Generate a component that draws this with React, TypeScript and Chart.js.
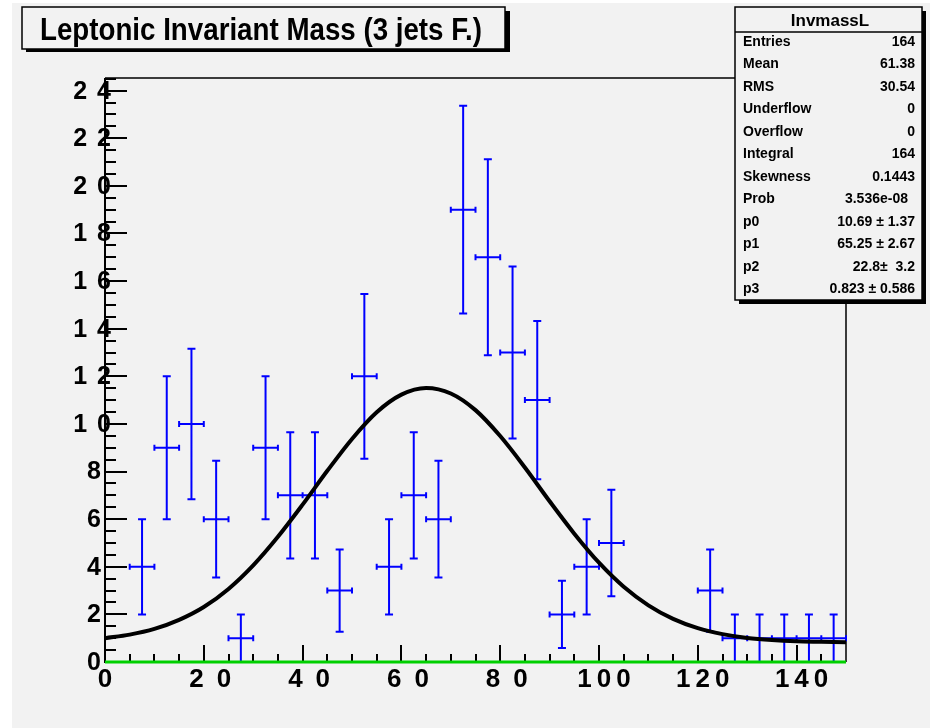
import React, { useEffect, useRef } from "react";
import { Chart, registerables } from "chart.js";

Chart.register(...registerables);

// ---------------- data ----------------
const titleText = "Leptonic Invariant Mass (3 jets F.)";

const binWidth = 5;
const binCenters = [7.5, 12.5, 17.5, 22.5, 27.5, 32.5, 37.5, 42.5, 47.5, 52.5, 57.5, 62.5, 67.5, 72.5, 77.5, 82.5, 87.5, 92.5, 97.5, 102.5, 122.5, 127.5, 132.5, 137.5, 142.5, 147.5];
const binCounts = [4, 9, 10, 6, 1, 9, 7, 7, 3, 12, 4, 7, 6, 19, 17, 13, 11, 2, 4, 5, 3, 1, 1, 1, 1, 1];
const binErrors = [2, 3, 3.16, 2.45, 1, 3, 2.65, 2.65, 1.73, 3.46, 2, 2.65, 2.45, 4.36, 4.12, 3.61, 3.32, 1.41, 2, 2.24, 1.73, 1, 1, 1, 1, 1];

const fitX = [0, 5, 10, 15, 20, 25, 30, 35, 40, 45, 50, 55, 60, 65, 70, 75, 80, 85, 90, 95, 100, 105, 110, 115, 120, 125, 130, 135, 140, 145, 150];
const fitY = [1.0, 1.15, 1.39, 1.77, 2.31, 3.07, 4.06, 5.26, 6.61, 8.03, 9.37, 10.49, 11.23, 11.51, 11.28, 10.58, 9.49, 8.17, 6.75, 5.39, 4.17, 3.16, 2.38, 1.81, 1.42, 1.17, 1.01, 0.92, 0.87, 0.85, 0.83];

const baselineX = [0, 150];
const baselineY = [0, 0];

const xMin = 0;
const xMax = 150;
const yMin = 0;
const yMax = 24.53;

const xTickValues = [0, 20, 40, 60, 80, 100, 120, 140];
const xTickLabels = ["0", "20", "40", "60", "80", "100", "120", "140"];
const yTickValues = [0, 2, 4, 6, 8, 10, 12, 14, 16, 18, 20, 22, 24];
const yTickLabels = ["0", "2", "4", "6", "8", "10", "12", "14", "16", "18", "20", "22", "24"];

const statsTitle = "InvmassL";
const statsLabels = ["Entries", "Mean", "RMS", "Underflow", "Overflow", "Integral", "Skewness", "Prob", "p0", "p1", "p2", "p3"];
const statsValues = ["164", "61.38", "30.54", "0", "0", "164", "0.1443", "3.536e-08", "10.69 \u00b1 1.37", "65.25 \u00b1 2.67", "22.8\u00b1  3.2", "0.823 \u00b1 0.586"];

// ---------------- drawing helpers ----------------
const FONT = "'Liberation Sans', Arial, Helvetica, sans-serif";
const BG = "#f2f2f2";

function drawSpaced(ctx: CanvasRenderingContext2D, text: string, x: number, y: number, align: "center" | "right", gap: number) {
  const natural = ctx.measureText(text).width;
  let start = align === "center" ? x - natural / 2 : x - natural;
  ctx.textAlign = "left";
  for (const ch of text.split("")) {
    ctx.fillText(ch, start, y);
    start += ctx.measureText(ch).width + gap;
  }
}

const rootDecor = {
  id: "rootDecor",
  beforeDraw(chart: any) {
    const ctx = chart.ctx as CanvasRenderingContext2D;
    ctx.save();
    ctx.fillStyle = "#ffffff";
    ctx.fillRect(0, 0, chart.width, chart.height);
    ctx.fillStyle = BG;
    ctx.fillRect(12, 3, 918, chart.height - 3);
    ctx.restore();
  },
  beforeDatasetsDraw(chart: any) {
    const ctx = chart.ctx as CanvasRenderingContext2D;
    const a = chart.chartArea;
    const xs = chart.scales.x;
    const ys = chart.scales.y;
    ctx.save();
    // frame
    ctx.strokeStyle = "#000";
    ctx.lineWidth = 1.5;
    ctx.beginPath();
    ctx.moveTo(a.left, a.top);
    ctx.lineTo(a.right, a.top);
    ctx.lineTo(a.right, a.bottom);
    ctx.stroke();
    ctx.lineWidth = 2;
    ctx.beginPath();
    ctx.moveTo(a.left, a.top);
    ctx.lineTo(a.left, a.bottom);
    ctx.lineTo(a.right, a.bottom);
    ctx.stroke();

    // y ticks (inside frame)
    ctx.lineWidth = 2;
    ctx.beginPath();
    for (let v = 0; v <= yMax + 1e-6; v += 0.5) {
      const py = Math.round(ys.getPixelForValue(v));
      const major = Math.abs(v / 2 - Math.round(v / 2)) < 1e-6;
      const len = major ? 22 : 11;
      ctx.moveTo(a.left, py);
      ctx.lineTo(a.left + len, py);
    }
    ctx.stroke();
    // x ticks
    ctx.beginPath();
    for (let v = 0; v < xMax - 1e-6; v += 5) {
      const px = Math.round(xs.getPixelForValue(v));
      const major = v % 20 === 0;
      const len = major ? 17 : 8;
      ctx.moveTo(px, a.bottom);
      ctx.lineTo(px, a.bottom - len);
    }
    ctx.stroke();

    // error bars of the histogram dataset
    const ds = chart.data.datasets[0];
    ctx.strokeStyle = "#0000ff";
    ctx.lineWidth = 2;
    ctx.beginPath();
    for (const p of ds.data) {
      const cx = xs.getPixelForValue(p.x);
      const cy = ys.getPixelForValue(p.y);
      const x0 = xs.getPixelForValue(p.x - binWidth / 2);
      const x1 = xs.getPixelForValue(p.x + binWidth / 2);
      const yLo = ys.getPixelForValue(Math.max(0, p.y - p.e));
      const yHi = ys.getPixelForValue(p.y + p.e);
      ctx.moveTo(cx, yLo);
      ctx.lineTo(cx, yHi);
      ctx.moveTo(cx - 4, yHi);
      ctx.lineTo(cx + 4, yHi);
      if (p.y - p.e > 0.01) {
        ctx.moveTo(cx - 4, yLo);
        ctx.lineTo(cx + 4, yLo);
      }
      ctx.moveTo(x0, cy);
      ctx.lineTo(x1, cy);
      ctx.moveTo(x0, cy - 3);
      ctx.lineTo(x0, cy + 3);
      ctx.moveTo(x1, cy - 3);
      ctx.lineTo(x1, cy + 3);
    }
    ctx.stroke();
    ctx.restore();
  },
  afterDraw(chart: any) {
    const ctx = chart.ctx as CanvasRenderingContext2D;
    const a = chart.chartArea;
    const xs = chart.scales.x;
    const ys = chart.scales.y;
    ctx.save();
    ctx.fillStyle = "#000";

    // y labels
    ctx.font = `bold 25px ${FONT}`;
    ctx.textBaseline = "middle";
    yTickValues.forEach((v, i) => {
      const py = ys.getPixelForValue(v) + 1;
      drawSpaced(ctx, yTickLabels[i], a.left - 4, py, "right", 10);
    });
    // x labels
    ctx.font = `bold 26px ${FONT}`;
    ctx.textBaseline = "top";
    xTickValues.forEach((v, i) => {
      const px = xs.getPixelForValue(v);
      const lab = xTickLabels[i];
      drawSpaced(ctx, lab, px, a.bottom + 5, "center", lab.length > 2 ? 5 : 13);
    });

    // title box
    ctx.fillStyle = "#000";
    ctx.fillRect(26, 11, 484, 41);
    ctx.fillStyle = BG;
    ctx.fillRect(22, 7, 483, 42);
    ctx.strokeStyle = "#000";
    ctx.lineWidth = 1.5;
    ctx.strokeRect(22, 7, 483, 42);
    ctx.fillStyle = "#000";
    ctx.font = `bold 32px ${FONT}`;
    ctx.textAlign = "left";
    ctx.textBaseline = "alphabetic";
    ctx.fillText(titleText, 40, 40, 442);

    // stats box
    const sx = 735, sy = 7, sw = 187, sh = 293;
    ctx.fillStyle = "#000";
    ctx.fillRect(sx + 4, sy + 4, sw, sh);
    ctx.fillStyle = BG;
    ctx.fillRect(sx, sy, sw, sh);
    ctx.strokeStyle = "#000";
    ctx.lineWidth = 1.5;
    ctx.strokeRect(sx, sy, sw, sh);
    ctx.beginPath();
    ctx.moveTo(sx, 32);
    ctx.lineTo(sx + sw, 32);
    ctx.stroke();
    ctx.fillStyle = "#000";
    ctx.font = `bold 17px ${FONT}`;
    ctx.textAlign = "center";
    ctx.textBaseline = "middle";
    ctx.fillText(statsTitle, 830, 21);
    ctx.font = `bold 14px ${FONT}`;
    statsLabels.forEach((lab, i) => {
      const ry = 42 + i * 22.5;
      ctx.textAlign = "left";
      ctx.fillText(lab, 743, ry);
      ctx.textAlign = "right";
      ctx.fillText(statsValues[i], lab === "Prob" ? 908 : 915, ry);
    });
    ctx.restore();
  },
};

export default function App() {
  const canvasRef = useRef<HTMLCanvasElement | null>(null);

  useEffect(() => {
    document.body.style.margin = "0";
    const canvas = canvasRef.current;
    if (!canvas) return;
    const histData = binCenters.map((c, i) => ({ x: c, y: binCounts[i], e: binErrors[i] }));
    const fitData = fitX.map((x, i) => ({ x, y: fitY[i] }));
    const baseData = baselineX.map((x, i) => ({ x, y: baselineY[i] }));

    const chart = new Chart(canvas, {
      type: "scatter",
      data: {
        datasets: [
          {
            label: "InvmassL",
            data: histData as any,
            pointRadius: 0,
            showLine: false,
          },
          {
            label: "fit",
            data: fitData,
            showLine: true,
            borderColor: "#000000",
            borderWidth: 4,
            pointRadius: 0,
            cubicInterpolationMode: "monotone",
          } as any,
          {
            label: "baseline",
            data: baseData,
            showLine: true,
            borderColor: "#00d000",
            borderWidth: 3,
            pointRadius: 0,
            clip: false,
          } as any,
        ],
      },
      options: {
        responsive: false,
        animation: false,
        devicePixelRatio: 1,
        events: [],
        layout: { padding: { left: 105, top: 78, right: 90, bottom: 66 } },
        scales: {
          x: { type: "linear", min: xMin, max: xMax, display: false },
          y: { type: "linear", min: yMin, max: yMax, display: false },
        },
        plugins: {
          legend: { display: false },
          tooltip: { enabled: false },
          title: { display: false },
        },
      },
      plugins: [rootDecor],
    });
    return () => chart.destroy();
  }, []);

  return (
    <div style={{ width: 936, height: 728 }}>
      <canvas ref={canvasRef} width={936} height={728} style={{ width: 936, height: 728, display: "block" }} />
    </div>
  );
}
